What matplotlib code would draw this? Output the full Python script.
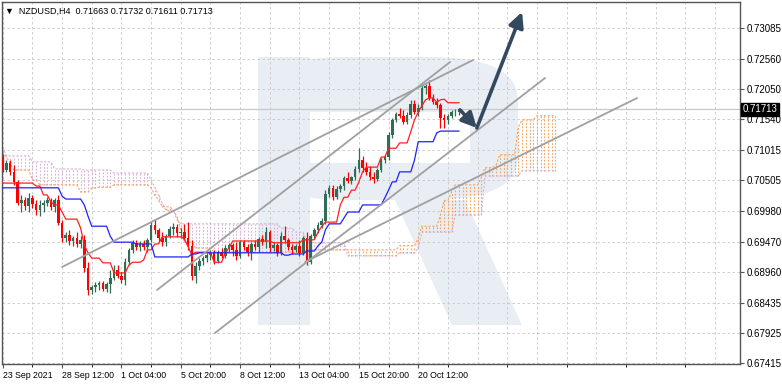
import numpy as np
import matplotlib.pyplot as plt
from matplotlib.patches import Rectangle, FancyBboxPatch, Polygon

plt.rcParams['font.family'] = ['Liberation Sans', 'DejaVu Sans']

# NZDUSD H4 candles
opens = [0.7089, 0.7068, 0.7080, 0.7065, 0.7048, 0.7012, 0.7017, 0.7007, 0.7021, 0.7011,
         0.7000, 0.7009, 0.7012, 0.7017, 0.7005, 0.7017, 0.6978, 0.6953, 0.6958, 0.6948,
         0.6953, 0.6943, 0.6950, 0.6902, 0.6865, 0.6870, 0.6874, 0.6877, 0.6867, 0.6875,
         0.6885, 0.6899, 0.6889, 0.6882, 0.6912, 0.6933, 0.6945, 0.6938, 0.6943, 0.6938,
         0.6950, 0.6975, 0.6967, 0.6953, 0.6946, 0.6956, 0.6968, 0.6972, 0.6961, 0.6963,
         0.6953, 0.6939, 0.6889, 0.6906, 0.6914, 0.6919, 0.6924, 0.6928, 0.6914, 0.6929,
         0.6923, 0.6936, 0.6941, 0.6933, 0.6923, 0.6946, 0.6938, 0.6929, 0.6943, 0.6938,
         0.6951, 0.6946, 0.6963, 0.6936, 0.6941, 0.6928, 0.6956, 0.6950, 0.6938, 0.6933,
         0.6939, 0.6928, 0.6953, 0.6912, 0.6956, 0.6967, 0.6975, 0.6982, 0.7028, 0.7038,
         0.7022, 0.7036, 0.7041, 0.7055, 0.7050, 0.7056, 0.7070, 0.7085, 0.7072, 0.7065,
         0.7056, 0.7053, 0.7068, 0.7085, 0.7090, 0.7127, 0.7153, 0.7163, 0.7160, 0.7149,
         0.7161, 0.7180, 0.7166, 0.7173, 0.7207, 0.7210, 0.7190, 0.7183, 0.7178, 0.7156,
         0.7153, 0.7160, 0.7166, 0.71663]
highs = [0.7095, 0.7085, 0.7085, 0.7077, 0.7051, 0.7026, 0.7022, 0.7029, 0.7026, 0.7017,
         0.7017, 0.7017, 0.7022, 0.7021, 0.7021, 0.7026, 0.6984, 0.6963, 0.6967, 0.6956,
         0.6963, 0.6956, 0.6958, 0.6912, 0.6874, 0.6879, 0.6880, 0.6880, 0.6879, 0.6899,
         0.6907, 0.6907, 0.6896, 0.6919, 0.6936, 0.6950, 0.6950, 0.6948, 0.6950, 0.6953,
         0.6980, 0.6984, 0.6970, 0.6963, 0.6960, 0.6973, 0.6978, 0.6977, 0.6970, 0.6977,
         0.6980, 0.6950, 0.6912, 0.6919, 0.6923, 0.6928, 0.6933, 0.6933, 0.6933, 0.6936,
         0.6941, 0.6945, 0.6945, 0.6946, 0.6950, 0.6950, 0.6943, 0.6946, 0.6950, 0.6955,
         0.6958, 0.6972, 0.6967, 0.6946, 0.6945, 0.6963, 0.6973, 0.6953, 0.6943, 0.6943,
         0.6950, 0.6956, 0.6963, 0.6960, 0.6970, 0.6980, 0.6987, 0.7034, 0.7043, 0.7043,
         0.7041, 0.7044, 0.7058, 0.7065, 0.7058, 0.7075, 0.7105, 0.7092, 0.7082, 0.7075,
         0.7065, 0.7072, 0.7089, 0.7093, 0.7133, 0.7156, 0.7166, 0.7173, 0.7170, 0.7166,
         0.7187, 0.7187, 0.7180, 0.7212, 0.7214, 0.7221, 0.7197, 0.7190, 0.7182, 0.7163,
         0.7163, 0.7170, 0.7172, 0.71732]
lows = [0.7065, 0.7065, 0.7060, 0.7043, 0.7009, 0.6997, 0.7000, 0.6997, 0.7004, 0.6992,
        0.6990, 0.6997, 0.7007, 0.7000, 0.6997, 0.6975, 0.6946, 0.6946, 0.6941, 0.6940,
        0.6938, 0.6936, 0.6896, 0.6857, 0.6858, 0.6862, 0.6865, 0.6863, 0.6862, 0.6860,
        0.6882, 0.6885, 0.6877, 0.6874, 0.6907, 0.6928, 0.6933, 0.6931, 0.6933, 0.6929,
        0.6946, 0.6960, 0.6946, 0.6940, 0.6940, 0.6953, 0.6958, 0.6955, 0.6953, 0.6950,
        0.6933, 0.6882, 0.6877, 0.6899, 0.6907, 0.6912, 0.6916, 0.6909, 0.6911, 0.6919,
        0.6919, 0.6929, 0.6923, 0.6916, 0.6919, 0.6933, 0.6923, 0.6916, 0.6933, 0.6929,
        0.6941, 0.6936, 0.6929, 0.6931, 0.6923, 0.6924, 0.6945, 0.6933, 0.6926, 0.6929,
        0.6923, 0.6924, 0.6907, 0.6909, 0.6953, 0.6962, 0.6970, 0.6977, 0.7022, 0.7017,
        0.7019, 0.7031, 0.7034, 0.7046, 0.7044, 0.7051, 0.7065, 0.7065, 0.7060, 0.7051,
        0.7046, 0.7050, 0.7065, 0.7080, 0.7085, 0.7122, 0.7149, 0.7156, 0.7146, 0.7146,
        0.7156, 0.7163, 0.7160, 0.7170, 0.7197, 0.7187, 0.7180, 0.7173, 0.7139, 0.7139,
        0.7146, 0.7156, 0.7160, 0.71611]
closes = [0.7068, 0.7080, 0.7065, 0.7048, 0.7012, 0.7017, 0.7007, 0.7021, 0.7011, 0.7000,
          0.7009, 0.7012, 0.7017, 0.7005, 0.7017, 0.6978, 0.6953, 0.6958, 0.6948, 0.6953,
          0.6943, 0.6950, 0.6902, 0.6865, 0.6870, 0.6874, 0.6877, 0.6867, 0.6875, 0.6885,
          0.6899, 0.6889, 0.6882, 0.6912, 0.6933, 0.6945, 0.6938, 0.6943, 0.6938, 0.6950,
          0.6975, 0.6967, 0.6953, 0.6946, 0.6956, 0.6968, 0.6972, 0.6961, 0.6963, 0.6953,
          0.6939, 0.6889, 0.6906, 0.6914, 0.6919, 0.6924, 0.6928, 0.6914, 0.6929, 0.6923,
          0.6936, 0.6941, 0.6933, 0.6923, 0.6946, 0.6938, 0.6929, 0.6943, 0.6938, 0.6951,
          0.6946, 0.6963, 0.6936, 0.6941, 0.6928, 0.6956, 0.6950, 0.6938, 0.6933, 0.6939,
          0.6928, 0.6953, 0.6912, 0.6956, 0.6967, 0.6975, 0.6982, 0.7028, 0.7038, 0.7022,
          0.7036, 0.7041, 0.7055, 0.7050, 0.7056, 0.7070, 0.7085, 0.7072, 0.7065, 0.7056,
          0.7053, 0.7068, 0.7085, 0.7090, 0.7127, 0.7153, 0.7163, 0.7160, 0.7149, 0.7161,
          0.7180, 0.7166, 0.7173, 0.7207, 0.7210, 0.7190, 0.7183, 0.7178, 0.7156, 0.7153,
          0.7160, 0.7166, 0.7167, 0.71713]

# Ichimoku lines as (value, number of bars) runs
tenkan_vals = [0.7046, 0.7041, 0.7026, 0.7014, 0.7009, 0.6997, 0.6985, 0.6970, 0.6941, 0.6928,
               0.6919, 0.6911, 0.6894, 0.6907, 0.6912, 0.6916, 0.6933, 0.6943, 0.6955, 0.6951,
               0.6938, 0.6924, 0.6929, 0.6912, 0.6928, 0.6936, 0.6948, 0.6945, 0.6950, 0.6963,
               0.6973, 0.6980, 0.7009, 0.7022, 0.7034, 0.7048, 0.7065, 0.7073, 0.7090, 0.7105,
               0.7114, 0.7133, 0.7153, 0.7166, 0.7177, 0.7187, 0.7190, 0.7183, 0.7187, 0.7188,
               0.7182]
tenkan_runs = [9, 2, 2, 1, 2, 1, 4, 1, 1, 1, 3, 3, 4, 1, 3, 1, 2, 2, 6, 1, 1, 1, 5, 3, 1, 1,
               11, 8, 4, 1, 1, 4, 1, 2, 2, 1, 1, 4, 2, 3, 3, 1, 1, 1, 1, 1, 2, 1, 1, 1, 4]
kijun_vals = [0.7038, 0.7024, 0.7019, 0.7009, 0.6990, 0.6973, 0.6956, 0.6946, 0.6943, 0.6921,
              0.6926, 0.6928, 0.6924, 0.6926, 0.6931, 0.6940, 0.6946, 0.6967, 0.6977, 0.6987,
              0.6997, 0.7009, 0.7021, 0.7034, 0.7048, 0.7065, 0.7085, 0.7116, 0.7131, 0.7134]
kijun_runs = [16, 1, 5, 1, 1, 5, 1, 6, 5, 10, 2, 23, 2, 4, 3, 1, 1, 1, 4, 1, 4, 6, 1, 1, 2,
              4, 1, 5, 1, 6]
span_a_vals = [0.7099, 0.7090, 0.7080, 0.7068, 0.7051, 0.7043, 0.7031, 0.7038, 0.7039, 0.7043,
               0.7038, 0.7026, 0.7017, 0.7006, 0.7000, 0.6989, 0.6967, 0.6946, 0.6936, 0.6929,
               0.6933, 0.6940, 0.6953, 0.6973, 0.6992, 0.7017, 0.7031, 0.7043, 0.7055, 0.7072,
               0.7077, 0.7094, 0.7141, 0.7153, 0.7160]
span_a_runs = [1, 1, 1, 5, 2, 11, 3, 2, 4, 10, 1, 1, 1, 3, 1, 1, 1, 3, 5, 25, 25, 5, 1, 5, 1,
               2, 1, 7, 1, 3, 1, 5, 1, 4, 6]
span_b_vals = [0.7107, 0.7092, 0.7082, 0.7070, 0.7068, 0.7063, 0.7051, 0.7039, 0.7026, 0.7012,
               0.7000, 0.6984, 0.6977, 0.6970, 0.6963, 0.6945, 0.6923, 0.6928, 0.6936, 0.6963,
               0.6992, 0.7058, 0.7067]
span_b_runs = [1, 7, 6, 8, 8, 10, 1, 1, 1, 1, 3, 1, 27, 4, 3, 11, 14, 5, 1, 9, 8, 10, 10]

# x axis labels every 16 bars
date_labels = ['23 Sep 2021', '28 Sep 12:00', '1 Oct 04:00', '5 Oct 20:00',
               '8 Oct 12:00', '13 Oct 04:00', '15 Oct 20:00', '20 Oct 12:00']
price_ticks = [0.73085, 0.72560, 0.72050, 0.71540, 0.71015, 0.70505,
               0.69980, 0.69470, 0.68960, 0.68435, 0.67925, 0.67415]
last_price = 0.71713

# hand drawn analysis: trend lines and forecast arrows (bar, price)
trend_lines = [((16.0, 0.69040), (126.8, 0.72544)),
               ((41.6, 0.68651), (120.6, 0.72510)),
               ((57.2, 0.67923), (146.2, 0.72239)),
               ((81.5, 0.69125), (171.0, 0.71900))]
arrow_path = [(123.3, 0.71697), (127.8, 0.71393), (140.0, 0.73356)]

tenkan = np.repeat(tenkan_vals, tenkan_runs)
kijun = np.repeat(kijun_vals, kijun_runs)
span_a = np.repeat(span_a_vals, span_a_runs)
span_b = np.repeat(span_b_vals, span_b_runs)

o, h, l, c = map(np.array, (opens, highs, lows, closes))
x = np.arange(len(c))
xs = np.arange(len(span_a))

fig = plt.figure(figsize=(7.82, 3.85), dpi=100)
ax = fig.add_axes([2 / 782, 21 / 385, 738 / 782, 362 / 385])
ax.set_xlim(-0.19, 198.74)
ax.set_ylim(0.67398, 0.73525)


def frac(px, py):
    return ((px - 2) / 738, (364 - py) / 362)


# faint logo in the background
wm = '#e9eef4'
ax.add_patch(FancyBboxPatch(frac(258, 200), 260 / 738, 143 / 362,
                            boxstyle='round,pad=0,rounding_size=0.12',
                            transform=ax.transAxes, fc=wm, ec='none', zorder=0))
ax.add_patch(Rectangle(frac(258, 325), 52 / 738, 268 / 362,
                       transform=ax.transAxes, fc=wm, ec='none', zorder=0))
ax.add_patch(Polygon([frac(395, 200), frac(465, 200), frac(522, 325), frac(452, 325)],
                     transform=ax.transAxes, fc=wm, ec='none', zorder=0))
ax.add_patch(Rectangle(frac(310, 163), 160 / 738, 51 / 362,
                       transform=ax.transAxes, fc='white', ec='none', zorder=0.1))

# grid
for gx in range(0, 199, 8):
    ax.axvline(gx, color='#c8c8c8', lw=0.6, ls=(0, (3, 3)), zorder=1)
for gy in price_ticks:
    ax.axhline(gy, color='#c8c8c8', lw=0.6, ls=(0, (3, 3)), zorder=1)
ax.axhline(last_price, color='#c8c8c8', lw=0.9, zorder=1.2)

# kumo: dotted vertical hatch
bull = span_a >= span_b
ax.vlines(xs[bull], span_b[bull], span_a[bull], colors='#f4a460', lw=0.8,
          linestyles=(0, (1.5, 1.5)), zorder=2)
ax.vlines(xs[~bull], span_a[~bull], span_b[~bull], colors='#d8b0d8', lw=0.8,
          linestyles=(0, (1.5, 1.5)), zorder=2)
ax.plot(xs, span_a, color='#f4a460', lw=0.8, ls=(0, (2, 1.5)), zorder=2.1)
ax.plot(xs, span_b, color='#d8b0d8', lw=0.8, ls=(0, (2, 1.5)), zorder=2.1)

# candles
up = c >= o
bull_col, bear_col = '#2f6e55', '#ff0000'
ax.vlines(x[up], l[up], h[up], color=bull_col, lw=0.9, zorder=4)
ax.vlines(x[~up], l[~up], h[~up], color=bear_col, lw=0.9, zorder=4)
ax.bar(x[up], c[up] - o[up], bottom=o[up], width=0.7, color=bull_col, lw=0, zorder=4)
ax.bar(x[~up], o[~up] - c[~up], bottom=c[~up], width=0.7, color=bear_col, lw=0, zorder=4)

ax.plot(x, tenkan, color='#ff2020', lw=0.9, zorder=5)
ax.plot(x, kijun, color='#2020ff', lw=0.9, zorder=5)

for (x0, y0), (x1, y1) in trend_lines:
    ax.plot([x0, x1], [y0, y1], color='#a0a0a0', lw=1.3, zorder=6,
            solid_capstyle='round')

for start, end in zip(arrow_path[:-1], arrow_path[1:]):
    ax.annotate('', xy=end, xytext=start, zorder=7,
                arrowprops=dict(arrowstyle='-|>,head_length=0.9,head_width=0.45',
                                color='#34495e', lw=2.6, shrinkA=0, shrinkB=0))

# axes styling
for side in ['left', 'right', 'top', 'bottom']:
    ax.spines[side].set_color('#555555')
    ax.spines[side].set_linewidth(1)
ax.yaxis.tick_right()
ax.set_yticks(price_ticks)
ax.set_yticklabels(['%.5f' % v for v in price_ticks])
ax.set_xticks(np.arange(len(date_labels)) * 16)
ax.set_xticklabels(date_labels, ha='left')
ax.set_xticks(np.arange(8, 199, 16), minor=True)
ax.tick_params(axis='both', labelsize=7, colors='#555555', labelcolor='black',
               length=3, width=0.8, pad=2)
ax.tick_params(axis='x', labelsize=6.3)
ax.tick_params(axis='x', which='minor', length=2, width=0.6)

ax.text(1.003, last_price, '%.5f' % last_price, transform=ax.get_yaxis_transform(),
        fontsize=7, color='white', va='center', ha='left',
        bbox=dict(boxstyle='square,pad=0.15', fc='black', ec='black'))

ax.text(3 / 738, 1 - 9 / 362, '\u25bc  NZDUSD,H4  0.71663 0.71732 0.71611 0.71713',
        transform=ax.transAxes, fontsize=6.5, va='center', ha='left',
        family=['Liberation Sans', 'DejaVu Sans'])

fig.savefig('out.png', dpi=100)
